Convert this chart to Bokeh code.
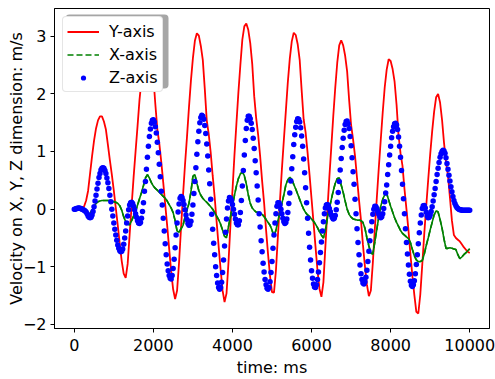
from bokeh.plotting import figure
from bokeh.models import (Legend, LegendItem, SingleIntervalTicker, CustomJSTickFormatter,
                          Range1d, BoxAnnotation)
from bokeh.embed import file_html
from bokeh.resources import INLINE

# ---- data ----
LINE_STEP_MS = 50   # sampling step of the Y and X series
DOT_STEP_MS = 25    # sampling step of the Z series

y_axis_velocity = [
    0.0, 0.0, 0.0, 0.0, 0.01, 0.05, 0.15, 0.32, 0.62, 0.92,
    1.19, 1.40, 1.54, 1.61, 1.61, 1.52, 1.38, 1.12, 0.85, 0.6,
    0.32, 0.02, -0.28, -0.6, -0.9, -1.12, -1.19, -0.95, -0.44, 0.06,
    0.55, 1.0, 1.44, 1.9, 2.24, 2.57, 2.79, 2.85, 2.76, 2.58,
    2.30, 1.82, 1.39, 1.14, 0.82, 0.46, 0.08, -0.29, -0.69, -1.08,
    -1.39, -1.56, -1.41, -0.92, -0.32, 0.24, 0.77, 1.25, 1.76, 2.23,
    2.62, 2.92, 3.05, 3.01, 2.83, 2.59, 2.09, 1.54, 1.30, 0.98,
    0.58, 0.21, -0.22, -0.64, -1.04, -1.41, -1.61, -1.46, -0.92, -0.26,
    0.32, 0.93, 1.48, 2.02, 2.5, 2.94, 3.17, 3.22, 3.11, 2.88,
    2.52, 1.96, 1.58, 1.29, 0.92, 0.49, 0.11, -0.36, -0.78, -1.16,
    -1.44, -1.45, -1.06, -0.46, 0.13, 0.69, 1.2, 1.70, 2.2, 2.61,
    2.91, 3.06, 3.02, 2.86, 2.59, 2.06, 1.56, 1.33, 0.98, 0.59,
    0.18, -0.23, -0.65, -1.06, -1.38, -1.52, -1.27, -0.65, -0.03, 0.55,
    1.08, 1.62, 2.11, 2.54, 2.84, 2.93, 2.84, 2.66, 2.39, 1.90,
    1.46, 1.21, 0.92, 0.54, 0.16, -0.19, -0.62, -0.99, -1.31, -1.51,
    -1.41, -0.93, -0.35, 0.19, 0.71, 1.20, 1.68, 2.11, 2.42, 2.60,
    2.57, 2.43, 2.21, 1.81, 1.28, 0.97, 0.75, 0.35, 0.0, -0.36,
    -0.78, -1.16, -1.49, -1.78, -1.81, -1.48, -0.96, -0.43, 0.05, 0.51,
    0.95, 1.35, 1.69, 1.94, 2.0, 1.85, 1.55, 1.15, 0.82, 0.58,
    0.2, -0.2, -0.45, -0.5, -0.53, -0.56, -0.61, -0.66, -0.7, -0.74,
    -0.76,
]

x_axis_velocity = [
    0.0, 0.0, -0.01, -0.02, -0.03, -0.04, -0.06, -0.08, -0.07, -0.02,
    0.05, 0.1, 0.13, 0.14, 0.15, 0.15, 0.15, 0.15, 0.15, 0.14,
    0.13, 0.12, 0.1, 0.06, -0.02, -0.13, -0.22, -0.26, -0.27, -0.2,
    -0.12, -0.04, 0.07, 0.18, 0.29, 0.41, 0.54, 0.6, 0.54, 0.46,
    0.4, 0.36, 0.33, 0.29, 0.26, 0.22, 0.19, 0.14, 0.08, 0.02,
    -0.06, -0.2, -0.38, -0.4, -0.34, -0.28, -0.14, -0.02, 0.1, 0.3,
    0.57, 0.6, 0.45, 0.32, 0.24, 0.19, 0.15, 0.12, 0.08, 0.04,
    0.0, -0.06, -0.12, -0.18, -0.26, -0.36, -0.47, -0.5, -0.3, -0.13,
    0.05, 0.24, 0.4, 0.53, 0.61, 0.65, 0.58, 0.44, 0.25, 0.1,
    0.02, -0.02, -0.05, -0.06, -0.07, -0.09, -0.13, -0.18, -0.23, -0.28,
    -0.36, -0.48, -0.36, -0.2, -0.05, 0.1, 0.25, 0.42, 0.51, 0.55,
    0.52, 0.43, 0.35, 0.26, 0.17, 0.08, 0.0, -0.06, -0.1, -0.13,
    -0.17, -0.21, -0.26, -0.32, -0.39, -0.45, -0.5, -0.36, -0.16, 0.01,
    0.17, 0.32, 0.45, 0.53, 0.54, 0.42, 0.29, 0.14, 0.0, -0.09,
    -0.14, -0.17, -0.18, -0.19, -0.19, -0.2, -0.23, -0.33, -0.5, -0.64,
    -0.76, -0.78, -0.57, -0.35, -0.14, 0.05, 0.17, 0.25, 0.27, 0.16,
    0.05, -0.05, -0.15, -0.23, -0.3, -0.37, -0.42, -0.45, -0.48, -0.51,
    -0.58, -0.7, -0.81, -0.88, -0.91, -0.91, -0.89, -0.78, -0.63, -0.5,
    -0.36, -0.23, -0.1, -0.03, -0.05, -0.18, -0.33, -0.52, -0.68, -0.68,
    -0.67, -0.68, -0.69, -0.7, -0.79, -0.86, -0.83, -0.79, -0.76, -0.72,
    -0.69,
]

z_axis_velocity = [
    0.0, 0.0, 0.01, 0.01, 0.02, 0.02, 0.01, 0.01,
    0.0, -0.01, -0.02, -0.03, -0.05, -0.08, -0.12, -0.14,
    -0.15, -0.14, -0.10, -0.04, 0.04, 0.14, 0.24, 0.35,
    0.45, 0.55, 0.62, 0.68, 0.71, 0.72, 0.71, 0.67,
    0.62, 0.54, 0.46, 0.36, 0.24, 0.13, 0.0, -0.12,
    -0.24, -0.35, -0.45, -0.54, -0.62, -0.68, -0.72, -0.74,
    -0.73, -0.69, -0.61, -0.50, -0.38, -0.24, -0.12, -0.01,
    0.07, 0.11, 0.12, 0.10, 0.05, -0.01, -0.08, -0.14,
    -0.20, -0.24, -0.25, -0.23, -0.16, -0.04, 0.11, 0.31,
    0.48, 0.69, 0.90, 1.09, 1.26, 1.39, 1.49, 1.54,
    1.55, 1.51, 1.43, 1.32, 1.16, 0.98, 0.78, 0.56,
    0.31, 0.07, -0.16, -0.38, -0.60, -0.79, -0.95, -1.07,
    -1.15, -1.20, -1.21, -1.15, -1.03, -0.87, -0.67, -0.45,
    -0.24, -0.05, 0.09, 0.19, 0.22, 0.20, 0.15, 0.08,
    -0.01, -0.10, -0.18, -0.25, -0.28, -0.27, -0.21, -0.09,
    0.07, 0.27, 0.48, 0.72, 0.95, 1.17, 1.35, 1.50,
    1.59, 1.63, 1.61, 1.56, 1.45, 1.31, 1.13, 0.92,
    0.68, 0.44, 0.17, -0.09, -0.35, -0.59, -0.79, -1.00,
    -1.15, -1.28, -1.36, -1.39, -1.36, -1.27, -1.10, -0.88,
    -0.64, -0.40, -0.17, 0.02, 0.14, 0.20, 0.19, 0.15,
    0.08, 0.0, -0.09, -0.17, -0.24, -0.27, -0.27, -0.20,
    -0.06, 0.15, 0.40, 0.67, 0.94, 1.19, 1.40, 1.54,
    1.61, 1.61, 1.57, 1.49, 1.38, 1.23, 1.05, 0.84,
    0.63, 0.40, 0.16, -0.08, -0.31, -0.55, -0.74, -0.94,
    -1.09, -1.22, -1.31, -1.37, -1.39, -1.36, -1.26, -1.10,
    -0.91, -0.68, -0.45, -0.24, -0.08, 0.05, 0.11, 0.11,
    0.07, 0.0, -0.08, -0.16, -0.22, -0.25, -0.23, -0.17,
    -0.06, 0.10, 0.28, 0.49, 0.70, 0.91, 1.12, 1.29,
    1.42, 1.52, 1.57, 1.56, 1.51, 1.41, 1.27, 1.09,
    0.87, 0.63, 0.37, 0.11, -0.16, -0.42, -0.66, -0.88,
    -1.07, -1.20, -1.30, -1.35, -1.36, -1.31, -1.22, -1.09,
    -0.93, -0.75, -0.57, -0.38, -0.22, -0.08, 0.02, 0.07,
    0.08, 0.055, 0.01, -0.045, -0.10, -0.145, -0.17, -0.16,
    -0.11, -0.01, 0.12, 0.29, 0.48, 0.68, 0.88, 1.07,
    1.23, 1.37, 1.47, 1.52, 1.53, 1.48, 1.40, 1.26,
    1.10, 0.89, 0.65, 0.43, 0.17, -0.08, -0.34, -0.58,
    -0.79, -0.97, -1.12, -1.22, -1.28, -1.30, -1.26, -1.18,
    -1.06, -0.91, -0.73, -0.55, -0.38, -0.22, -0.09, 0.0,
    0.05, 0.044, 0.01, -0.04, -0.09, -0.13, -0.15, -0.13,
    -0.08, 0.01, 0.13, 0.28, 0.42, 0.60, 0.77, 0.94,
    1.09, 1.24, 1.35, 1.43, 1.48, 1.49, 1.46, 1.38,
    1.25, 1.09, 0.90, 0.67, 0.43, 0.18, -0.08, -0.34,
    -0.58, -0.78, -0.97, -1.13, -1.25, -1.32, -1.34, -1.31,
    -1.24, -1.12, -0.96, -0.79, -0.60, -0.41, -0.24, -0.10,
    0.01, 0.06, 0.065, 0.02, -0.055, -0.12, -0.15, -0.14,
    -0.10, -0.04, 0.04, 0.14, 0.25, 0.36, 0.48, 0.60,
    0.71, 0.81, 0.90, 0.96, 1.0, 1.02, 1.01, 0.97,
    0.89, 0.79, 0.69, 0.59, 0.49, 0.39, 0.30, 0.22,
    0.15, 0.10, 0.06, 0.03, 0.01, 0.0, -0.01, -0.01,
    -0.02, -0.02, -0.02, -0.02, -0.02, -0.02, -0.02, -0.02,
    -0.02,
]

series_labels = ["Y-axis", "X-axis", "Z-axis"]
x_label = "time: ms"
y_label = "Velocity on X, Y, Z dimension: m/s"

t_line = [i * LINE_STEP_MS for i in range(len(y_axis_velocity))]
t_dot = [i * DOT_STEP_MS for i in range(len(z_axis_velocity))]

FONT = "DejaVu Sans"

p = figure(width=495, height=379, output_backend="svg", toolbar_location=None,
           x_range=Range1d(-500, 10500), y_range=Range1d(-2.07, 3.48),
           min_border_left=54, min_border_right=6, min_border_top=8, min_border_bottom=46)
p.background_fill_color = "white"
p.border_fill_color = "white"
p.outline_line_color = "black"
p.outline_line_width = 1
p.xgrid.visible = False
p.ygrid.visible = False

p.xaxis.ticker = SingleIntervalTicker(interval=2000, num_minor_ticks=0)
p.yaxis.ticker = SingleIntervalTicker(interval=1, num_minor_ticks=0)
p.yaxis.formatter = CustomJSTickFormatter(
    code="return tick < 0 ? '\u2212' + Math.abs(tick).toFixed(0) : tick.toFixed(0);")
for ax in (p.xaxis, p.yaxis):
    ax.axis_line_color = "black"
    ax.major_tick_line_color = "black"
    ax.major_tick_out = 4
    ax.major_tick_in = 0
    ax.minor_tick_line_color = None
    ax.major_label_text_font = FONT
    ax.major_label_text_font_size = "16px"
    ax.major_label_text_color = "black"
    ax.axis_label_text_font = FONT
    ax.axis_label_text_font_size = "16px"
    ax.axis_label_text_font_style = "normal"
    ax.axis_label_text_color = "black"
p.xaxis.major_label_standoff = 6
p.xaxis.axis_label_standoff = 4
p.yaxis.major_label_standoff = 4
p.yaxis.axis_label_standoff = -6
p.xaxis.axis_label = x_label
p.yaxis.axis_label = y_label

r_y = p.line(t_line, y_axis_velocity, line_color="#ff0000", line_width=1.8)
r_x = p.line(t_line, x_axis_velocity, line_color="#008000", line_width=1.6)
r_x_key = p.line(t_line, x_axis_velocity, line_color="#008000", line_width=1.6, line_dash="6 3")
r_z = p.scatter(t_dot, z_axis_velocity, marker="circle", size=5.5,
                fill_color="#0000ff", line_color=None)

shadow = BoxAnnotation(left=11, right=114, top=314, bottom=240,
                       left_units="screen", right_units="screen",
                       top_units="screen", bottom_units="screen",
                       fill_color="#4d4d4d", fill_alpha=0.5, line_color=None,
                       border_radius=4)
p.add_layout(shadow)

legend = Legend(items=[LegendItem(label=series_labels[0], renderers=[r_y]),
                       LegendItem(label=series_labels[1], renderers=[r_x_key]),
                       LegendItem(label=series_labels[2], renderers=[r_z])],
                location="top_left", margin=8, padding=4, spacing=3,
                glyph_width=32, glyph_height=13, label_height=20, label_standoff=10,
                label_text_font=FONT, label_text_font_size="16px", label_text_color="black",
                border_line_color="#cccccc", border_line_width=1,
                background_fill_color="white", background_fill_alpha=1,
                border_radius=4)
p.add_layout(legend)

open("out.html", "w").write(file_html(p, INLINE))
